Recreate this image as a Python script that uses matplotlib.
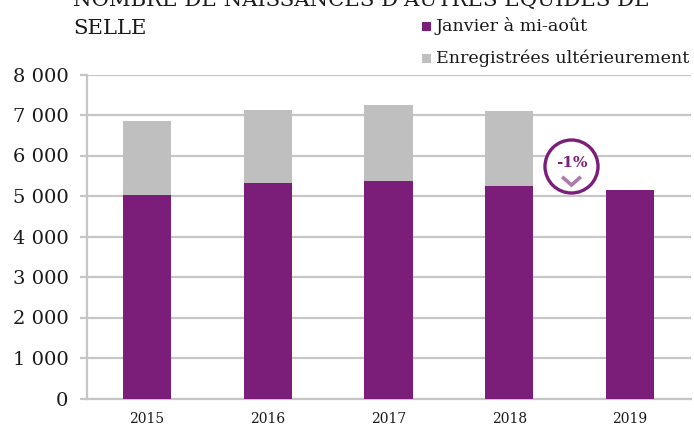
import matplotlib
matplotlib.use("Agg")
import matplotlib.pyplot as plt
from matplotlib.patches import Circle, Rectangle
from matplotlib.ticker import FuncFormatter

years = ["2015", "2016", "2017", "2018", "2019"]
early = [5020, 5310, 5380, 5250, 5150]
late = [1830, 1820, 1860, 1840, 0]
yticks = [0, 1000, 2000, 3000, 4000, 5000, 6000, 7000, 8000]

W, H = 694, 426
PURPLE = "#7B1E7A"
GREY = "#BFBFBF"
GRID = "#C6C6C6"
TXT = "#1A1A1A"
plt.rcParams["font.family"] = ["DejaVu Serif"]

fig = plt.figure(figsize=(W / 100, H / 100), dpi=100)
L, R, T, B = 86.5, 690.5, 74.5, 398.5
ax = fig.add_axes([L / W, 1 - B / H, (R - L) / W, (B - T) / H])
x = list(range(len(years)))
ax.bar(x, early, width=0.4, color=PURPLE, zorder=3)
ax.bar(x, late, width=0.4, bottom=early, color=GREY, zorder=3)
ax.set_xlim(-0.5, 4.5)
ax.set_ylim(0, 8000)
ax.set_yticks(yticks)
ax.yaxis.set_major_formatter(FuncFormatter(lambda v, p: f"{int(v):,}".replace(",", " ")))
ax.set_xticks(x)
ax.set_xticklabels(years)
ax.grid(axis="y", color=GRID, lw=1.6, zorder=0)
ax.set_axisbelow(True)
for s in ["top", "right"]:
    ax.spines[s].set_visible(False)
for s in ["left", "bottom"]:
    ax.spines[s].set_color(GRID)
    ax.spines[s].set_linewidth(1.6)
ax.tick_params(axis="y", length=5, width=1.6, color=GRID, labelsize=14, labelcolor=TXT, pad=8)
ax.tick_params(axis="x", length=0, labelsize=10, labelcolor=TXT, pad=10)

fig.text(73 / W, 1 - 6 / H, "NOMBRE DE NAISSANCES D'AUTRES ÉQUIDES DE", fontsize=15.3, color=TXT, va="baseline")
fig.text(73 / W, 1 - 34 / H, "SELLE", fontsize=15.3, color=TXT, va="baseline")

# legend
for yy, c, lab in [(26, PURPLE, "Janvier à mi-août"), (58, GREY, "Enregistrées ultérieurement")]:
    fig.add_artist(Rectangle((422 / W, 1 - (yy + 4.5) / H), 8.5 / W, 9 / H, color=c, transform=fig.transFigure, lw=0))
    fig.text(436 / W, 1 - (yy + 5) / H, lab, fontsize=12.6, color=TXT, va="baseline")

# badge
overlay = fig.add_axes([0, 0, 1, 1], facecolor="none")
overlay.set_xlim(0, W)
overlay.set_ylim(H, 0)
overlay.axis("off")
overlay.add_patch(Circle((571.5, 166.5), 26.5, fc="white", ec=PURPLE, lw=2.4))
overlay.text(571.5, 163, "-1%", fontsize=11, fontweight="bold", color=PURPLE, ha="center", va="center")
overlay.plot([563.5, 571.5, 579.5], [178, 185, 178], color=PURPLE, alpha=0.6, lw=2.6, solid_joinstyle="miter")

fig.savefig("out.png", dpi=100)
